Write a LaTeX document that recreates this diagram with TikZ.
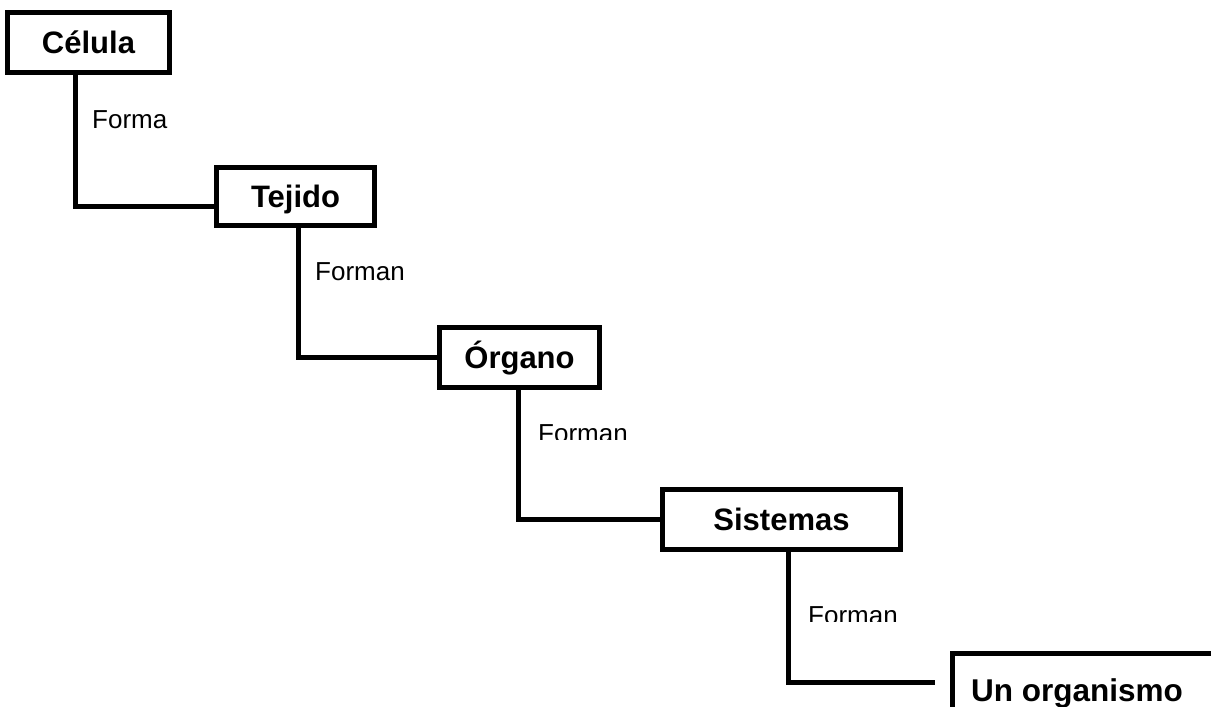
\documentclass[tikz,border=0pt]{standalone}
\usepackage{fontspec}
\setmainfont{Liberation Sans}
\begin{document}
\begin{tikzpicture}[x=1pt,y=-1pt,
  box/.style={draw, line width=5pt, fill=white, inner sep=0pt,
    font=\bfseries\fontsize{31}{36}\selectfont, text height=22pt, text depth=0pt},
  conn/.style={line width=5pt},
  lbl/.style={font=\fontsize{26}{30}\selectfont, anchor=base west, inner sep=0pt}]
\useasboundingbox (0,0) rectangle (1211,707);
\clip (0,0) rectangle (1211,707);
\fill[white] (0,0) rectangle (1211,707);

\node[box, minimum width=162pt, minimum height=60pt] (celula) at (88.5,42.5) {Célula};
\node[box, minimum width=158pt, minimum height=58pt] (tejido) at (295.5,196.5) {Tejido};
\node[box, minimum width=160pt, minimum height=60pt] (organo) at (519.5,357.5) {Órgano};
\node[box, minimum width=238pt, minimum height=60pt] (sistemas) at (781.5,519.5) {Sistemas};
\node[box, anchor=north west, minimum width=300pt, minimum height=74pt, font=\bfseries\fontsize{31.5}{36}\selectfont] (organismo) at (949.5,650.5) {\hspace*{-50pt}Un organismo};
\coordinate (end4) at ([yshift=-32pt]organismo.north west);

\draw[conn] ([xshift=-13.5pt]celula.south) |- ([yshift=-9.5pt]tejido.west);
\draw[conn] ([xshift=2.5pt]tejido.south) |- (organo.west);
\draw[conn] ([xshift=-1.5pt]organo.south) |- (sistemas.west);
\draw[conn] ([xshift=6.5pt]sistemas.south) |- ([xshift=-15pt]end4);

\node[lbl] (l1) at (92,128) {Forma};
\node[lbl] (l2) at (315,280) {Forman};
\begin{scope}
\clip (500,400) rectangle (650,439);
\node[lbl] (l3) at (538,442) {Forman};
\end{scope}
\begin{scope}
\clip (780,590) rectangle (950,621);
\node[lbl] (l4) at (808,624) {Forman};
\end{scope}
\end{tikzpicture}
\end{document}
